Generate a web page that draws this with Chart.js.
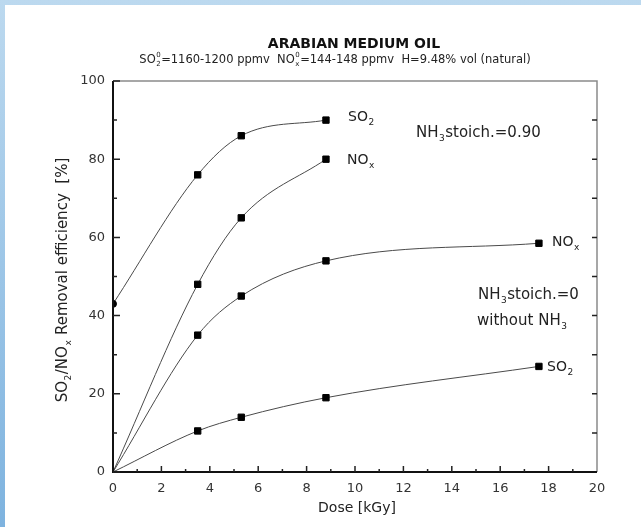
<!DOCTYPE html>
<html>
<head>
<meta charset="utf-8">
<script src="https://cdn.jsdelivr.net/npm/chart.js@4/dist/chart.umd.min.js"></script>
<style>
  html, body { margin: 0; padding: 0; width: 641px; height: 527px; overflow: hidden; }
  body { background: linear-gradient(to bottom, #bcd9ef, #7eb3df); }
  #wrap { position: absolute; left: 5px; top: 5px; right: 0; bottom: 0; background: #fff; }
</style>
</head>
<body>
<div id="wrap"><canvas id="chart"></canvas></div>
<script>
// dose values [kGy]
const doseShort = [0, 3.5, 5.3, 8.8];
const doseLong = [0, 3.5, 5.3, 8.8, 17.6];

// NH3 stoich. = 0.90
const so2Nh3 = [43, 76, 86, 90];
const noxNh3 = [0, 48, 65, 80];

// NH3 stoich. = 0 (without NH3)
const noxNoNh3 = [0, 35, 45, 54, 58.5];
const so2NoNh3 = [0, 10.5, 14, 19, 27];

const xTicks = [0, 2, 4, 6, 8, 10, 12, 14, 16, 18, 20];
const yTicks = [0, 20, 40, 60, 80, 100];

const FONT = '"DejaVu Sans", sans-serif';

function pairs(xs, ys) {
  return xs.map((x, i) => ({ x: x, y: ys[i] }));
}

// draws text with sub/superscript parts, e.g. ['SO', {sub: '2', sup: '0'}]
function richText(ctx, parts, x, y, size, align, bold) {
  const big = (bold ? 'bold ' : '') + size + 'px ' + FONT;
  const small = (bold ? 'bold ' : '') + Math.round(size * 0.62) + 'px ' + FONT;
  let total = 0;
  const widths = parts.map(p => {
    if (typeof p === 'string') { ctx.font = big; return ctx.measureText(p).width; }
    ctx.font = small;
    return Math.max(p.sub ? ctx.measureText(p.sub).width : 0, p.sup ? ctx.measureText(p.sup).width : 0) + 1;
  });
  widths.forEach(w => total += w);
  let cx = align === 'center' ? x - total / 2 : x;
  ctx.textAlign = 'left';
  ctx.textBaseline = 'middle';
  parts.forEach((p, i) => {
    if (typeof p === 'string') {
      ctx.font = big;
      ctx.fillText(p, cx, y);
    } else {
      ctx.font = small;
      if (p.sub) ctx.fillText(p.sub, cx + 0.5, y + size * 0.38);
      if (p.sup) ctx.fillText(p.sup, cx + 0.5, y - size * 0.4);
    }
    cx += widths[i];
  });
}

const decorPlugin = {
  id: 'decor',
  afterDraw(chart) {
    const ctx = chart.ctx;
    const a = chart.chartArea;
    const xs = chart.scales.x, ys = chart.scales.y;
    ctx.save();

    // frame
    ctx.strokeStyle = '#8a8a8a';
    ctx.lineWidth = 1.5;
    ctx.beginPath();
    ctx.moveTo(a.left, a.top); ctx.lineTo(a.right, a.top); ctx.lineTo(a.right, a.bottom);
    ctx.stroke();
    ctx.strokeStyle = '#111';
    ctx.lineWidth = 2;
    ctx.beginPath();
    ctx.moveTo(a.left, a.top); ctx.lineTo(a.left, a.bottom); ctx.lineTo(a.right, a.bottom);
    ctx.stroke();

    // inward ticks
    ctx.lineWidth = 1.5;
    ctx.strokeStyle = '#222';
    ctx.beginPath();
    for (let v = 0; v <= 100; v += 10) {
      const py = ys.getPixelForValue(v);
      const len = v % 20 === 0 ? 7 : 4;
      ctx.moveTo(a.left, py); ctx.lineTo(a.left + len, py);
      if (v > 0 && v < 100) { ctx.moveTo(a.right, py); ctx.lineTo(a.right - 5, py); }
    }
    for (let v = 1; v < 20; v++) {
      const px = xs.getPixelForValue(v);
      const len = v % 2 === 0 ? 6 : 3;
      ctx.moveTo(px, a.bottom); ctx.lineTo(px, a.bottom - len);
    }
    ctx.stroke();

    ctx.fillStyle = '#111';
    // titles
    richText(ctx, ['ARABIAN MEDIUM OIL'], 349, 39, 14, 'center', true);
    ctx.fillStyle = '#222';
    richText(ctx, ['SO', { sub: '2', sup: '0' }, '=1160-1200 ppmv  NO', { sub: 'x', sup: '0' },
      '=144-148 ppmv  H=9.48% vol (natural)'], 330, 55, 11.5, 'center');

    // axis titles
    richText(ctx, ['Dose [kGy]'], 352, 503, 14, 'center');
    ctx.save();
    ctx.translate(58, 275);
    ctx.rotate(-Math.PI / 2);
    richText(ctx, ['SO', { sub: '2' }, '/NO', { sub: 'x' }, ' Removal efficiency  [%]'], 0, 0, 15, 'center');
    ctx.restore();

    // series labels
    richText(ctx, ['SO', { sub: '2' }], 343, 112, 14, 'left');
    richText(ctx, ['NO', { sub: 'x' }], 342, 155, 14, 'left');
    richText(ctx, ['NH', { sub: '3' }, 'stoich.=0.90'], 411, 128, 15, 'left');
    richText(ctx, ['NO', { sub: 'x' }], 547, 237, 14, 'left');
    richText(ctx, ['NH', { sub: '3' }, 'stoich.=0'], 473, 290, 15, 'left');
    richText(ctx, ['without NH', { sub: '3' }], 472, 316, 15, 'left');
    richText(ctx, ['SO', { sub: '2' }], 542, 362, 14, 'left');
    ctx.restore();
  }
};

function series(data, firstShape) {
  return {
    data: data,
    borderColor: '#4a4a4a',
    borderWidth: 1,
    backgroundColor: '#000',
    pointBackgroundColor: '#000',
    pointBorderColor: '#000',
    pointStyle: c => (c.dataIndex === 0 && firstShape ? firstShape : 'rect'),
    pointRadius: c => (c.raw && c.raw.y === 0 ? 0 : (c.dataIndex === 0 ? 3.5 : 4.5)),
    cubicInterpolationMode: 'monotone',
    fill: false
  };
}

new Chart(document.getElementById('chart'), {
  type: 'line',
  data: {
    datasets: [
      series(pairs(doseShort, so2Nh3), 'circle'),
      series(pairs(doseShort, noxNh3)),
      series(pairs(doseLong, noxNoNh3)),
      series(pairs(doseLong, so2NoNh3))
    ]
  },
  options: {
    responsive: true,
    maintainAspectRatio: false,
    animation: false,
    layout: { padding: { left: 0, top: 76, right: 44, bottom: 0 } },
    plugins: { legend: { display: false }, tooltip: { enabled: false } },
    scales: {
      x: {
        type: 'linear', min: 0, max: 20,
        afterBuildTicks: s => { s.ticks = xTicks.map(v => ({ value: v })); },
        afterFit: s => { s.height = 55; },
        grid: { display: false, drawTicks: false, tickLength: 0 }, border: { display: false },
        ticks: { padding: 9, color: '#333', font: { family: FONT, size: 13 } }
      },
      y: {
        min: 0, max: 100,
        afterBuildTicks: s => { s.ticks = yTicks.map(v => ({ value: v })); },
        afterFit: s => { s.width = 108; },
        grid: { display: false, drawTicks: false, tickLength: 0 }, border: { display: false },
        ticks: { padding: 8, color: '#333', font: { family: FONT, size: 13 } }
      }
    }
  },
  plugins: [decorPlugin]
});
</script>
</body>
</html>
